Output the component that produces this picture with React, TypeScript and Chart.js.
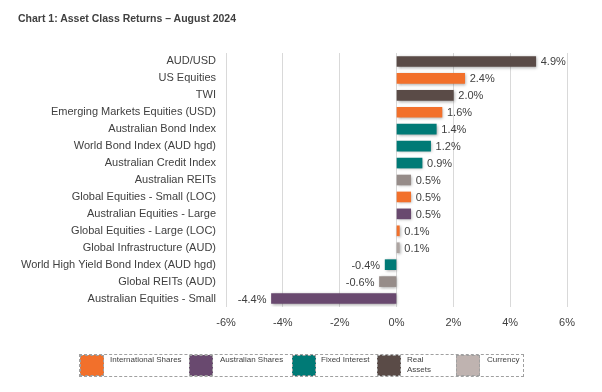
import React, { useEffect, useRef } from "react";
import { Chart, registerables } from "chart.js";

Chart.register(...registerables);

const categories = [
  "AUD/USD",
  "US Equities",
  "TWI",
  "Emerging Markets Equities (USD)",
  "Australian Bond Index",
  "World Bond Index (AUD hgd)",
  "Australian Credit Index",
  "Australian REITs",
  "Global Equities - Small (LOC)",
  "Australian Equities - Large",
  "Global Equities - Large (LOC)",
  "Global Infrastructure (AUD)",
  "World High Yield Bond Index (AUD hgd)",
  "Global REITs (AUD)",
  "Australian Equities - Small",
];

const returns = [4.9, 2.4, 2.0, 1.6, 1.4, 1.2, 0.9, 0.5, 0.5, 0.5, 0.1, 0.1, -0.4, -0.6, -4.4];

const groups = [
  "Real Assets",
  "International Shares",
  "Real Assets",
  "International Shares",
  "Fixed Interest",
  "Fixed Interest",
  "Fixed Interest",
  "Property",
  "International Shares",
  "Australian Shares",
  "International Shares",
  "Infrastructure",
  "Fixed Interest",
  "Property",
  "Australian Shares",
];

const xTicks = [-6, -4, -2, 0, 2, 4, 6];

const legendItems = ["International Shares", "Australian Shares", "Fixed Interest", "Real\nAssets", "Currency"];

const palette: Record<string, string> = {
  "International Shares": "#F2702B",
  "Australian Shares": "#69496F",
  "Fixed Interest": "#007A76",
  "Real Assets": "#5A4B47",
  Property: "#968C89",
  Infrastructure: "#ADA4A1",
  Currency: "#BFB3B0",
};

const legendColors = [
  palette["International Shares"],
  palette["Australian Shares"],
  palette["Fixed Interest"],
  palette["Real Assets"],
  palette["Currency"],
];

const FONT = "'Liberation Sans', Arial, sans-serif";
const TEXT = "#404040";

const shadowPlugin = {
  id: "barShadow",
  beforeDatasetsDraw(chart: any) {
    const ctx = chart.ctx;
    ctx.save();
    ctx.shadowColor = "rgba(0,0,0,0.35)";
    ctx.shadowBlur = 3;
    ctx.shadowOffsetX = 1;
    ctx.shadowOffsetY = 1;
  },
  afterDatasetsDraw(chart: any) {
    chart.ctx.restore();
  },
};

const labelPlugin = {
  id: "valueLabels",
  afterDraw(chart: any) {
    const ctx = chart.ctx;
    const meta = chart.getDatasetMeta(0);
    ctx.save();
    ctx.font = `11px ${FONT}`;
    ctx.fillStyle = TEXT;
    ctx.textBaseline = "middle";
    meta.data.forEach((el: any, i: number) => {
      const v = returns[i];
      const txt = v.toFixed(1) + "%";
      if (v >= 0) {
        ctx.textAlign = "left";
        ctx.fillText(txt, el.x + 5, el.y + 1);
      } else {
        ctx.textAlign = "right";
        ctx.fillText(txt, el.x - 5, el.y + 1);
      }
    });
    ctx.restore();
  },
};

export default function App() {
  const ref = useRef<HTMLCanvasElement | null>(null);

  useEffect(() => {
    if (!ref.current) return;
    const chart = new Chart(ref.current, {
      type: "bar",
      data: {
        labels: categories,
        datasets: [
          {
            data: returns,
            backgroundColor: groups.map((g) => palette[g]),
            barThickness: 10,
            borderSkipped: false,
          },
        ],
      },
      options: {
        indexAxis: "y",
        animation: false,
        responsive: false,
        maintainAspectRatio: false,
        layout: { padding: { left: 0, right: 35, top: 53, bottom: 57 } },
        plugins: {
          legend: { display: false },
          tooltip: { enabled: false },
          title: { display: false },
        },
        scales: {
          x: {
            min: -6,
            max: 6,
            afterBuildTicks(scale: any) {
              scale.ticks = xTicks.map((v) => ({ value: v }));
            },
            afterFit(scale: any) {
              scale.height = 28;
            },
            ticks: {
              callback: (v: any) => v + "%",
              color: TEXT,
              font: { family: FONT, size: 11 },
              padding: 9,
              maxRotation: 0,
            },
            grid: { color: "#D9D9D9", drawTicks: false, lineWidth: 1 },
            border: { display: false },
          },
          y: {
            afterFit(scale: any) {
              scale.width = 226;
            },
            ticks: {
              color: TEXT,
              font: { family: FONT, size: 11 },
              padding: 10,
              autoSkip: false,
            },
            grid: { display: false, drawTicks: false },
            border: { display: false },
          },
        },
      },
      plugins: [shadowPlugin, labelPlugin],
    });
    return () => chart.destroy();
  }, []);

  const swatchX = [80, 189, 292, 377, 456];
  const textX = [110, 220, 321, 407, 487];

  return (
    <div style={{ position: "absolute", left: 0, top: 0, width: 602, height: 392, background: "#fff", fontFamily: FONT }}>
      <canvas ref={ref} width={602} height={392} style={{ position: "absolute", left: 0, top: 0, width: 602, height: 392 }} />
      <div
        style={{
          position: "absolute",
          left: 18,
          top: 12,
          fontSize: 10.5,
          fontWeight: "bold",
          color: TEXT,
          whiteSpace: "nowrap",
        }}
      >
        Chart 1: Asset Class Returns – August 2024
      </div>
      <div
        style={{
          position: "absolute",
          left: 79,
          top: 354,
          width: 445,
          height: 23,
          boxSizing: "border-box",
          border: "1px dashed #A0A0A0",
        }}
      />
      {legendItems.map((name, i) => (
        <React.Fragment key={name}>
          <div
            style={{
              position: "absolute",
              left: swatchX[i],
              top: 355,
              width: 24,
              height: 21,
              boxSizing: "border-box",
              background: legendColors[i],
              border: "1px dashed #A0A0A0",
            }}
          />
          <div
            style={{
              position: "absolute",
              left: textX[i],
              top: 355,
              fontSize: 8,
              lineHeight: "10px",
              color: TEXT,
              whiteSpace: "pre",
            }}
          >
            {name}
          </div>
        </React.Fragment>
      ))}
    </div>
  );
}
